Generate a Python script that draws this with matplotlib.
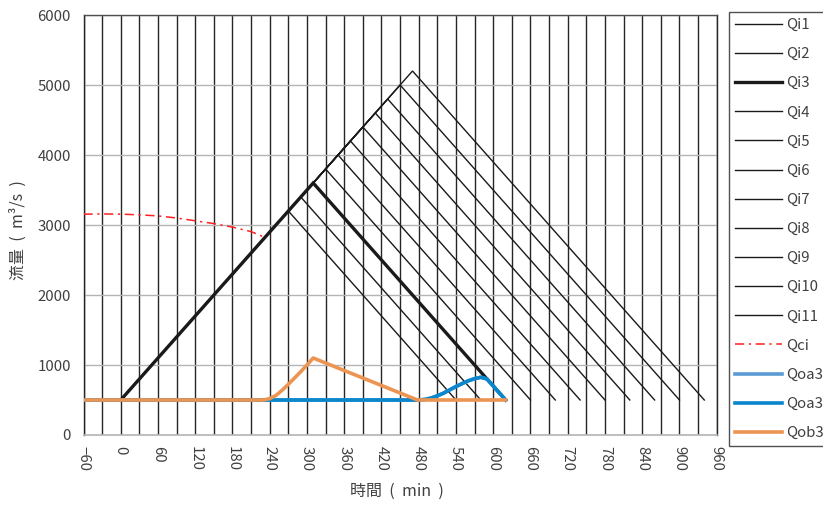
import matplotlib
matplotlib.use("Agg")
import matplotlib.pyplot as plt

plt.rcParams['font.family'] = ['Noto Sans CJK TC', 'DejaVu Sans']

# Inflow hydrographs (triangular): time [min], flow [m3/s]
qi_labels = ["Qi1", "Qi2", "Qi3", "Qi4", "Qi5", "Qi6", "Qi7", "Qi8", "Qi9", "Qi10", "Qi11"]
qi_times = [
    [0, 270, 540], [0, 290, 580], [0, 310, 620], [0, 330, 660],
    [0, 350, 700], [0, 370, 740], [0, 390, 780], [0, 410, 820],
    [0, 430, 860], [0, 450, 900], [0, 470, 940],
]
qi_flows = [
    [500, 3200, 500], [500, 3400, 500], [500, 3600, 500], [500, 3800, 500],
    [500, 4000, 500], [500, 4200, 500], [500, 4400, 500], [500, 4600, 500],
    [500, 4800, 500], [500, 5000, 500], [500, 5200, 500],
]

# Critical inflow curve
qci_t = [-60, -30, 0, 30, 60, 90, 120, 150, 180, 210, 232]
qci_q = [3155, 3158, 3155, 3145, 3130, 3100, 3060, 3020, 2970, 2905, 2825]

# Outflow, gate A (two cases) and gate B
qoa3a_t = [-60, 480, 490, 500, 510, 520, 530, 540, 550, 560, 570, 580, 590, 600, 610, 620]
qoa3a_q = [500, 500, 508, 528, 560, 598, 645, 692, 735, 775, 805, 825, 800, 700, 600, 500]
qoa3b_t = [-60, 480, 490, 500, 510, 520, 530, 540, 550, 560, 570, 580, 590, 600, 610, 620]
qoa3b_q = [500, 500, 508, 528, 560, 598, 645, 692, 735, 775, 805, 825, 800, 700, 600, 500]
qob3_t = [-60, 230, 240, 250, 260, 270, 280, 290, 300, 310, 478, 620]
qob3_q = [500, 500, 520, 565, 640, 725, 815, 905, 1000, 1100, 500, 500]

W, H = 823, 507
fig = plt.figure(figsize=(W / 100, H / 100), dpi=100)
ax = fig.add_axes([83.5 / W, 1 - 435 / H, (716.7 - 83.5) / W, (435 - 15) / H])

txt = '#404040'
fs = 10.8

handles = []
for i, (t, q) in enumerate(zip(qi_times, qi_flows)):
    lw = 2.4 if qi_labels[i] == "Qi3" else 1.0
    h, = ax.plot(t, q, color='#1a1a1a', lw=lw, label=qi_labels[i], zorder=3 + (0.5 if lw > 2 else 0),
                 solid_joinstyle='miter')
    handles.append(h)

h, = ax.plot(qci_t, qci_q, color='#ff2020', lw=1.1, dashes=(6, 3, 1.5, 3), label='Qci', zorder=4)
handles.append(h)
h, = ax.plot(qoa3a_t, qoa3a_q, color='#5b9bd5', lw=2.6, label='Qoa3', zorder=5)
handles.append(h)
h, = ax.plot(qoa3b_t, qoa3b_q, color='#0a86cc', lw=2.6, label='Qoa3', zorder=6)
handles.append(h)
h, = ax.plot(qob3_t, qob3_q, color='#ec9552', lw=2.6, label='Qob3', zorder=7)
handles.append(h)

ax.set_xlim(-60, 960)
ax.set_ylim(0, 6000)
ax.set_xticks(list(range(-60, 961, 60)))
ax.set_xticks(list(range(-30, 961, 60)), minor=True)
ax.set_yticks(list(range(0, 6001, 1000)))

ax.grid(axis='x', which='both', color='#262626', lw=1.0, zorder=1)
ax.grid(axis='y', which='major', color='#b4b4b4', lw=1.0, zorder=1)
ax.set_axisbelow(True)

ax.tick_params(axis='both', which='both', length=0, colors=txt, labelsize=fs)
ax.tick_params(axis='x', pad=8.0, labelrotation=-90)
ax.tick_params(axis='y', pad=9.0)

for s in ['left', 'right']:
    ax.spines[s].set_color('#262626')
    ax.spines[s].set_linewidth(1.0)
ax.spines['top'].set_color('#505050')
ax.spines['top'].set_linewidth(1.0)
ax.spines['bottom'].set_color('#b4b4b4')
ax.spines['bottom'].set_linewidth(1.2)

fig.text(18 / W, 1 - 230 / H, '流量  (  m³/s  )', rotation=90, ha='center', va='center',
         fontsize=11.5, color=txt)
fig.text(397 / W, 1 - 491 / H, '時間  (  min  )', ha='center', va='center',
         fontsize=11.5, color=txt)

leg = fig.legend(handles=handles, loc='upper left', bbox_to_anchor=(729 / W, 1 - 12 / H),
                 borderaxespad=0, fontsize=fs, handlelength=3.1, handletextpad=0.3,
                 labelspacing=1.01, frameon=True, fancybox=False, borderpad=0.4)
leg.get_frame().set_edgecolor('#262626')
leg.get_frame().set_linewidth(1.0)
for t in leg.get_texts():
    t.set_color(txt)

fig.savefig('out.png', dpi=100)
